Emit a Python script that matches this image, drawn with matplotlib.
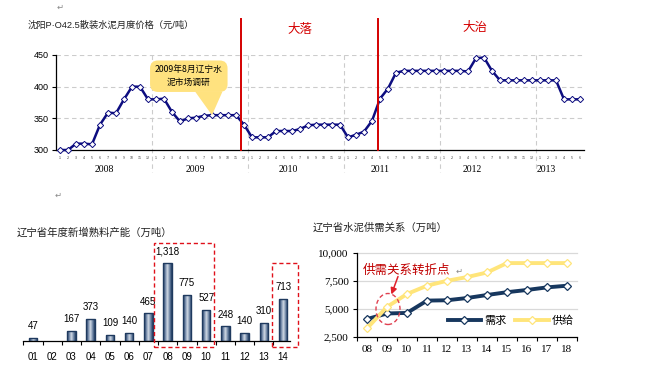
import matplotlib.pyplot as plt
import numpy as np
from matplotlib.colors import LinearSegmentedColormap
from matplotlib.patches import Ellipse, Polygon, Rectangle

plt.rcParams['font.family'] = ['Noto Sans CJK SC', 'DejaVu Sans']

W, H = 647, 377

# --- monthly price, Shenyang P.O42.5 bulk cement (yuan/t), 2008-01 .. 2013-06
price_2008 = [300, 300, 310, 310, 309, 340, 359, 358, 380, 400, 400, 380]
price_2009 = [380, 381, 360, 345, 350, 351, 354, 355, 355, 355, 355, 340]
price_2010 = [320, 320, 320, 330, 330, 330, 333, 339, 340, 340, 340, 340]
price_2011 = [320, 324, 329, 346, 381, 397, 422, 425, 425, 425, 425, 425]
price_2012 = [425, 425, 425, 424, 445, 446, 425, 410, 410, 410, 410, 410]
price_2013 = [410, 410, 410, 380, 380, 380]
years = ['2008', '2009', '2010', '2011', '2012', '2013']
year_label_pos = [5.6, 16.9, 28.6, 40.0, 51.5, 60.75]

# --- new clinker capacity per year (10k t)
cap_years = ['01', '02', '03', '04', '05', '06', '07',
             '08', '09', '10', '11', '12', '13', '14']
cap_values = [47, 0, 167, 373, 109, 140, 465, 1318, 775, 527, 248, 140, 310, 713]

# --- supply / demand (10k t)
sd_years = ['08', '09', '10', '11', '12', '13', '14', '15', '16', '17', '18']
demand = [4100, 4600, 4650, 5750, 5780, 5980, 6250, 6500, 6700, 6930, 7080]
supply = [3270, 5190, 6340, 7080, 7520, 7850, 8260, 9100, 9100, 9100, 9100]

NAVY = '#0d0d80'
RED = '#d40000'
YELLOW = '#ffe27f'
DEMAND_C = '#17375e'
SUPPLY_C = '#ffe57a'


def px_axes(fig, left, top, right, bottom):
    return fig.add_axes([left / W, 1 - bottom / H, (right - left) / W, (bottom - top) / H])


fig = plt.figure(figsize=(W / 100, H / 100), dpi=100)

# ================= top: monthly price =================
price = price_2008 + price_2009 + price_2010 + price_2011 + price_2012 + price_2013
months = [m for _ in range(5) for m in range(1, 13)] + list(range(1, 7))
xi = np.arange(len(price))

ax = px_axes(fig, 56, 55, 584, 150)


def ty(py):
    return 300 + (150 - py) * 150 / 95


for v in [350, 400, 450]:
    ax.axhline(v, color='#cccccc', lw=0.8, ls=(0, (4, 3)), zorder=1)
for b in [11.5, 23.5, 35.5, 47.5, 59.5]:
    ax.plot([b, b], [ty(55), ty(172)], color='#cccccc', lw=0.8, ls=(0, (4, 3)),
            clip_on=False, zorder=1)

ax.plot(xi, price, color=NAVY, lw=1.8, marker='D', ms=3.2, mfc='white',
        mec=NAVY, mew=0.7, zorder=3, clip_on=False)

for xr in [22.6, 39.75]:
    ax.plot([xr, xr], [300, ty(19)], color=RED, lw=1.4, clip_on=False, zorder=4)

ax.set_xlim(-0.5, len(price) - 0.5)
ax.set_ylim(300, 450)
ax.set_yticks([300, 350, 400, 450])
ax.tick_params(axis='y', length=3, width=0.8, labelsize=6.5, pad=2)
for lab in ax.get_yticklabels():
    lab.set_family(['Liberation Sans', 'DejaVu Sans'])
ax.set_xticks(xi)
ax.set_xticklabels([str(m) for m in months], fontsize=2.6, color='#333333')
ax.tick_params(axis='x', length=0, pad=4)
for s in ['top', 'right']:
    ax.spines[s].set_visible(False)
ax.spines['left'].set_linewidth(0.9)
ax.spines['bottom'].set_linewidth(0.9)

for yl, xp in zip(years, year_label_pos):
    ax.text(xp, ty(170), yl, ha='center', va='center', fontsize=7,
            family=['Liberation Serif', 'DejaVu Serif'], clip_on=False)

ax.text(16.1, 416.5, '2009年8月辽宁水\n泥市场调研', ha='center', va='center',
        fontsize=6.3, linespacing=1.55, zorder=5,
        bbox=dict(boxstyle='round,pad=0.55,rounding_size=0.9', fc=YELLOW, ec='none'))
ax.add_patch(Polygon([(16.9, 392), (19, 355), (20.3, 392)], closed=True,
                     fc=YELLOW, ec='none', zorder=5, clip_on=False))

fig.text(28 / W, 1 - 25 / H, '沈阳P·O42.5散装水泥月度价格（元/吨）', fontsize=6.7,
         color='#222222', va='center', family=['Liberation Sans', 'Noto Sans CJK SC'])
fig.text(300 / W, 1 - 29 / H, '大落', fontsize=9, color=RED, ha='center', va='center')
fig.text(475 / W, 1 - 28 / H, '大治', fontsize=9, color=RED, ha='center', va='center')
for gx, gy in [(60, 7), (58, 195)]:
    fig.text(gx / W, 1 - gy / H, '↵', fontsize=6, color='#888888', ha='center', va='center',
             family=['DejaVu Sans'])

# ================= bottom left: new clinker capacity =================
ax2 = px_axes(fig, 23, 243, 290, 341)
bar_cmap = LinearSegmentedColormap.from_list(
    'bar', ['#1f3a5f', '#6f86a6', '#d3dbe6', '#6f86a6', '#1f3a5f'])
grad = np.linspace(0, 1, 64).reshape(1, -1)
bw = 0.44
for i, v in enumerate(cap_values):
    if v <= 0:
        continue
    rect = Rectangle((i - bw / 2, 0), bw, v, fc='none', ec='#1f3a5f', lw=1.0, zorder=3)
    ax2.add_patch(rect)
    im = ax2.imshow(grad, extent=[i - bw / 2, i + bw / 2, 0, v], cmap=bar_cmap,
                    aspect='auto', zorder=2)
    im.set_clip_path(rect)
    ax2.annotate(f'{v:,}', (i, v), xytext=(0, 8.5), textcoords='offset points',
                 ha='center', va='center', fontsize=7,
                 family=['Liberation Sans', 'DejaVu Sans'])

ax2.set_xlim(-0.52, 13.36)
ax2.set_ylim(0, 1656)
ax2.set_xticks(range(len(cap_years)))
ax2.set_xticklabels(cap_years, fontsize=7, family=['Liberation Sans', 'DejaVu Sans'])
ax2.set_xticks(np.arange(-0.5, 13.5, 1), minor=True)
ax2.tick_params(axis='x', which='major', length=0, pad=8)
ax2.tick_params(axis='x', which='minor', length=3, width=0.8)
ax2.set_yticks([])
for s in ['top', 'right', 'left']:
    ax2.spines[s].set_visible(False)
ax2.spines['bottom'].set_linewidth(0.9)

for x0, x1, y1 in [(6.29, 9.41, 1656), (12.43, 13.78, 1318)]:
    ax2.add_patch(Rectangle((x0, -101), x1 - x0, y1 + 101, fill=False, ec='#e0101a',
                            lw=1.0, ls=(0, (3, 2)), clip_on=False, zorder=4))

fig.text(17 / W, 1 - 233 / H, '辽宁省年度新增熟料产能（万吨）', fontsize=7.5,
         color='#222222', va='center')

# ================= bottom right: supply / demand =================
ax3 = px_axes(fig, 357, 253, 577, 337)
sx = np.arange(len(sd_years))
for v in [5000, 7500, 10000]:
    ax3.axhline(v, color='#d9d9d9', lw=0.9, zorder=1, clip_on=False)
ax3.plot(sx, demand, color=DEMAND_C, lw=2.8, marker='D', ms=4, mfc='white',
         mec=DEMAND_C, mew=0.9, zorder=3, label='需求')
ax3.plot(sx, supply, color=SUPPLY_C, lw=2.8, marker='D', ms=4, mfc='white',
         mec=SUPPLY_C, mew=0.9, zorder=3, label='供给', clip_on=False)
ax3.set_xlim(-0.5, len(sd_years) - 0.5)
ax3.set_ylim(2500, 10000)
ax3.set_yticks([2500, 5000, 7500, 10000])
ax3.set_yticklabels(['2,500', '5,000', '7,500', '10,000'])
ax3.set_xticks(sx)
ax3.set_xticklabels(sd_years)
ax3.set_xticks(np.arange(-0.5, len(sd_years), 1), minor=True)
ax3.tick_params(axis='x', which='major', length=0, pad=6, labelsize=8)
ax3.tick_params(axis='x', which='minor', length=3, width=0.8)
ax3.tick_params(axis='y', length=3, width=0.8, pad=3, labelsize=8)
for lab in ax3.get_xticklabels() + ax3.get_yticklabels():
    lab.set_family(['Liberation Serif', 'DejaVu Serif'])
for s in ['top', 'right']:
    ax3.spines[s].set_visible(False)
ax3.spines['left'].set_linewidth(0.9)
ax3.spines['bottom'].set_linewidth(0.9)

ax3.legend(loc='center', bbox_to_anchor=(0.70, 0.19), ncol=2, frameon=False,
           fontsize=8, handlelength=3.0, handletextpad=0.3, columnspacing=0.8)

ax3.text(-0.2, 8482, '供需关系转折点', fontsize=9, color='#c00000', ha='left', va='center')
ax3.text(4.45, 8400, '↵', fontsize=6, color='#888888', ha='left', va='center',
         family=['DejaVu Sans'])
ax3.annotate('', xy=(1.22, 6300), xytext=(1.55, 7900),
             arrowprops=dict(arrowstyle='-|>', color='#e0202a', lw=1.1, mutation_scale=9,
                             shrinkA=0, shrinkB=0), zorder=5)
ax3.add_patch(Ellipse((1.05, 5000), 1.2, 2768, fill=False, ec='#e04050', lw=1.0,
                      ls=(0, (3, 2)), zorder=4))

fig.text(313 / W, 1 - 228 / H, '辽宁省水泥供需关系（万吨）', fontsize=7.5,
         color='#222222', va='center')

fig.savefig('out.png', dpi=100)
